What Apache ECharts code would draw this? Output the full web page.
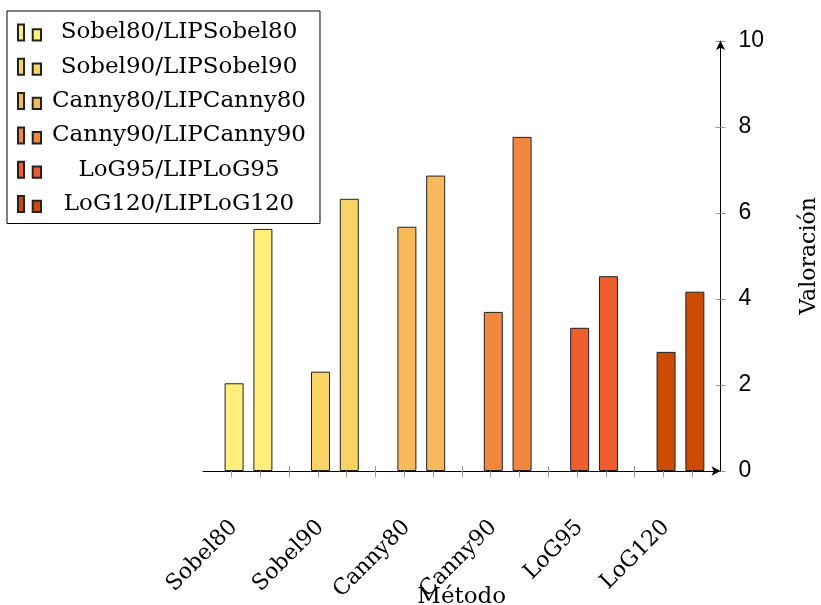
<!DOCTYPE html>
<html>
<head>
<meta charset="utf-8">
<script src="https://cdn.jsdelivr.net/npm/echarts@6.0.0/dist/echarts.min.js"></script>
<style>
html,body{margin:0;padding:0;background:#fff;}
#grafico{width:821px;height:605px;}
</style>
</head>
<body>
<div id="grafico"></div>
<script>
// datos
var metodos = ['Sobel80', 'Sobel90', 'Canny80', 'Canny90', 'LoG95', 'LoG120'];
var leyenda = ['Sobel80/LIPSobel80', 'Sobel90/LIPSobel90', 'Canny80/LIPCanny80',
               'Canny90/LIPCanny90', 'LoG95/LIPLoG95', 'LoG120/LIPLoG120'];
var valorMetodo = [2.04, 2.31, 5.68, 3.70, 3.33, 2.77];
var valorLIP = [5.63, 6.33, 6.87, 7.77, 4.53, 4.17];
var yTicks = [0, 2, 4, 6, 8, 10];

var colores = ['#ffef7a', '#fad366', '#f8b95a', '#f4873f', '#ef5c2e', '#cb4c02'];
var serif = 'DejaVu Serif';

// cada metodo ocupa 3 huecos: metodo, LIP, vacio
var ticks = [];
var ticksVacios = [];
for (var j = 0; j < metodos.length * 3 - 1; j++) {
    ticks.push(j - 0.09);
    if (j % 3 == 2) ticksVacios.push(j - 0.09);
}
var posEtiquetas = metodos.map(function (m, i) { return i * 3; });

var series = [];
for (var i = 0; i < metodos.length; i++) {
    series.push({
        name: leyenda[i],
        type: 'bar',
        barWidth: 19,
        barGap: '-100%',
        itemStyle: {color: colores[i], borderColor: '#222', borderWidth: 1},
        data: [[i * 3, valorMetodo[i]], [i * 3 + 1, valorLIP[i]]]
    });
}

var myChart = echarts.init(document.getElementById('grafico'));
myChart.setOption({
    animation: false,
    legend: {
        orient: 'vertical',
        left: 7,
        top: 11,
        padding: [10, 14, 8, 10],
        itemGap: 11.3,
        itemWidth: 23,
        itemHeight: 16,
        borderColor: '#000',
        borderWidth: 1,
        backgroundColor: '#fff',
        icon: 'path://M0,0H6V16H0Z M14.7,4.7H23V16H14.7Z',
        data: leyenda,
        formatter: function (n) { return '{t|' + n + '}'; },
        textStyle: {
            color: '#000', fontFamily: serif, fontSize: 23,
            rich: {t: {width: 266, align: 'center', fontFamily: serif, fontSize: 23, color: '#000'}}
        }
    },
    grid: {left: 203, right: 100.5, top: 41, bottom: 134, outerBoundsMode: 'none'},
    xAxis: [{
        type: 'value',
        min: -1.08,
        max: 16.89,
        position: 'bottom',
        name: 'Método',
        nameLocation: 'middle',
        nameGap: 115,
        nameMoveOverlap: false,
        nameTextStyle: {fontFamily: serif, fontSize: 23, color: '#000'},
        axisLine: {show: true, onZero: false, symbol: ['none', 'arrow'], symbolSize: [7, 9], lineStyle: {color: '#000', width: 1}},
        axisTick: {show: true, customValues: ticks, length: 6, lineStyle: {color: '#999'}},
        axisLabel: {
            customValues: posEtiquetas,
            rotate: 45,
            margin: 53,
            fontFamily: serif,
            fontSize: 22,
            color: '#000',
            formatter: function (v) { return metodos[Math.round(v / 3)]; }
        },
        splitLine: {show: false}
    }, {
        type: 'value',
        min: -1.08,
        max: 16.89,
        position: 'bottom',
        axisLine: {show: false, onZero: false},
        axisTick: {show: true, inside: true, customValues: ticksVacios, length: 5, lineStyle: {color: '#999'}},
        axisLabel: {show: false},
        splitLine: {show: false}
    }],
    yAxis: [{
        type: 'value',
        position: 'right',
        min: yTicks[0],
        max: yTicks[yTicks.length - 1],
        interval: 2,
        name: 'Valoración',
        nameLocation: 'middle',
        nameGap: 78,
        nameMoveOverlap: false,
        nameTextStyle: {fontFamily: serif, fontSize: 22, color: '#000'},
        axisLine: {show: true, onZero: false, symbol: ['none', 'arrow'], symbolSize: [7, 9], lineStyle: {color: '#000', width: 1}},
        axisTick: {show: true, length: 5, lineStyle: {color: '#999'}},
        axisLabel: {margin: 18, fontFamily: 'Liberation Sans', fontSize: 23, color: '#000'},
        splitLine: {show: false}
    }, {
        type: 'value',
        position: 'right',
        min: yTicks[0],
        max: yTicks[yTicks.length - 1],
        interval: 2,
        axisLine: {show: false, onZero: false},
        axisTick: {show: true, inside: true, length: 5, lineStyle: {color: '#999'}},
        axisLabel: {show: false},
        splitLine: {show: false}
    }],
    series: series
});
</script>
</body>
</html>
